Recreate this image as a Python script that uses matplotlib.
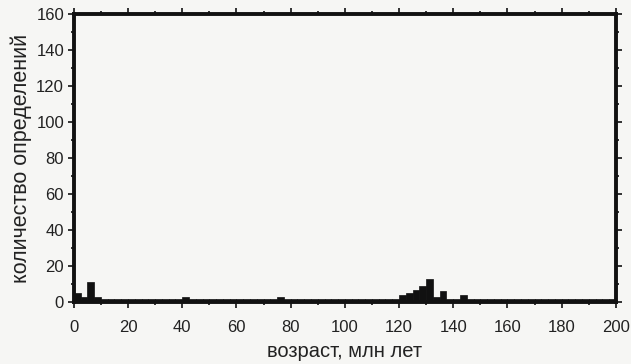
import matplotlib
matplotlib.use("Agg")
import matplotlib.pyplot as plt
from matplotlib.ticker import MultipleLocator

plt.rcParams['font.family'] = ['Liberation Sans', 'DejaVu Sans']

bin_width = 2.5
bin_starts = [i * 2.5 for i in range(80)]
counts = [
    5, 3, 11, 3, 2, 2, 2, 2, 2, 2,
    2, 2, 2, 2, 2, 2, 3, 2, 2, 2,
    2, 2, 2, 2, 2, 2, 2, 2, 2, 2,
    3, 2, 2, 2, 2, 2, 2, 2, 2, 2,
    2, 2, 2, 2, 2, 2, 2, 2, 4, 5,
    7, 9, 13, 3, 6, 2, 2, 4, 2, 2,
    2, 2, 2, 2, 2, 2, 2, 2, 2, 2,
    2, 2, 2, 2, 2, 2, 2, 2, 2, 2,
]
x_ticks = [0, 20, 40, 60, 80, 100, 120, 140, 160, 180, 200]
y_ticks = [0, 20, 40, 60, 80, 100, 120, 140, 160]
x_label = "возраст, млн лет"
y_label = "количество определений"

fig = plt.figure(figsize=(6.31, 3.64), dpi=100, facecolor='#f6f6f4')
ax = fig.add_axes([0.117, 0.170, 0.859, 0.792])
ax.set_facecolor('#f6f6f4')

ax.bar(bin_starts, counts, width=bin_width, align='edge',
       color='#111111', edgecolor='#111111', linewidth=0.5)

ax.set_xlim(0, 200)
ax.set_ylim(0, 160)
ax.set_xticks(x_ticks)
ax.set_yticks(y_ticks)
ax.xaxis.set_minor_locator(MultipleLocator(10))
ax.yaxis.set_minor_locator(MultipleLocator(10))
ax.tick_params(which='both', direction='out', top=True, right=True,
               labeltop=False, labelright=False, color='#111111', width=1.2)
ax.tick_params(which='major', length=4, labelsize=12, labelcolor='#222222')
ax.tick_params(axis='x', which='major', pad=9)
ax.tick_params(axis='y', which='major', pad=3)
ax.tick_params(which='minor', length=2.5)

for s in ax.spines.values():
    s.set_linewidth(2.8)
    s.set_color('#111111')

ax.set_xlabel(x_label, fontsize=14.5, color='#222222', labelpad=5)
ax.set_ylabel(y_label, fontsize=15.5, color='#222222', labelpad=3)

fig.savefig('out.png', dpi=100, facecolor=fig.get_facecolor())
